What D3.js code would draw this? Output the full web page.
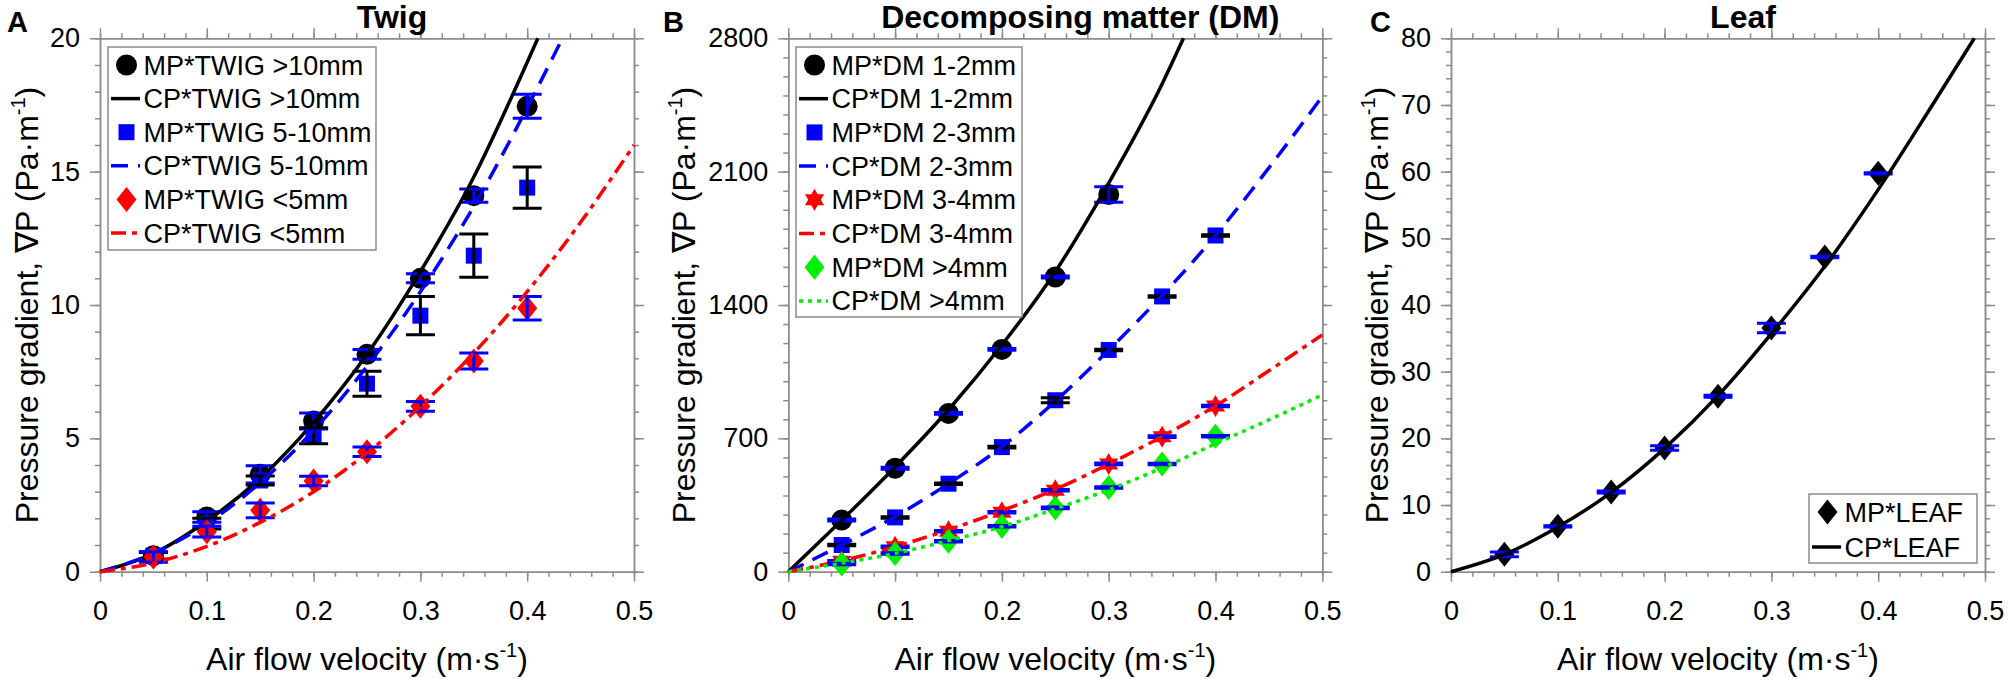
<!DOCTYPE html>
<html>
<head>
<meta charset="utf-8">
<script src="https://cdn.jsdelivr.net/npm/d3@7"></script>
<style>
  body { margin: 0; background: #fff; }
  text { font-family: "Liberation Sans", Arial, sans-serif; fill: #000; }
</style>
</head>
<body>
<script>
// air flow velocities (m/s) where pressure was measured
const velocity = [0.05, 0.1, 0.15, 0.2, 0.25, 0.3, 0.35, 0.4];
const velocityShort = [0.05, 0.1, 0.15, 0.2, 0.25, 0.3];

// A - twig, measured values and error
const twigOver10 = [0.6, 2.05, 3.65, 5.65, 8.15, 11.0, 14.1, 17.45];
const twigOver10Err = [0.15, 0.2, 0.32, 0.3, 0.18, 0.17, 0.25, 0.45];
const twig5to10 = [0.6, 1.8, 3.42, 5.1, 7.05, 9.6, 11.85, 14.4];
const twig5to10Err = [0.12, 0.2, 0.17, 0.3, 0.47, 0.72, 0.81, 0.77];
const twigUnder5 = [0.55, 1.5, 2.3, 3.4, 4.5, 6.2, 7.9, 9.88];
const twigUnder5Err = [0.2, 0.2, 0.28, 0.18, 0.18, 0.18, 0.3, 0.44];

// A - computed curves
const fullFitV = [0, 0.05, 0.1, 0.15, 0.2, 0.25, 0.3, 0.35, 0.4, 0.45, 0.5];
const twigOver10FitV = [0, 0.05, 0.1, 0.15, 0.2, 0.25, 0.3, 0.35, 0.4, 0.41];
const twigOver10Fit = [0, 0.68, 1.9, 3.5, 5.6, 8.15, 11.25, 14.8, 19.1, 20];
const twig5to10FitV = [0, 0.05, 0.1, 0.15, 0.2, 0.25, 0.3, 0.35, 0.4, 0.433];
const twig5to10Fit = [0, 0.69, 1.8, 3.34, 5.3, 7.7, 10.5, 13.7, 17.4, 20];
const twigUnder5Fit = [0, 0.33, 0.95, 1.85, 3.0, 4.45, 6.2, 8.2, 10.5, 13.1, 16.0];

// B - decomposing matter
const dm1to2 = [271, 543, 831, 1167, 1547, 1980];
const dm1to2Err = [5, 5, 5, 5, 5, 41];
const dm2to3 = [140, 285, 462, 654, 900, 1164, 1445, 1765];
const dm2to3Err = [4, 4, 4, 4, 13, 4, 4, 4];
const dm3to4 = [55, 131, 212, 312, 427, 566, 709, 870];
const dm3to4Err = [4, 4, 4, 4, 4, 4, 4, 4];
const dmOver4 = [40, 96, 160, 238, 335, 442, 565, 711];
const dmOver4Err = [4, 4, 4, 4, 4, 4, 4, 4];

const dm1to2FitV = [0, 0.05, 0.1, 0.15, 0.2, 0.25, 0.3, 0.35, 0.37];
const dm1to2Fit = [0, 270, 550, 850, 1190, 1575, 2040, 2560, 2800];
const dm2to3Fit = [0, 140, 289, 462, 656, 895, 1164, 1450, 1765, 2120, 2495];
const dm3to4Fit = [0, 58, 131, 220, 320, 432, 565, 710, 870, 1055, 1243];
const dmOver4Fit = [0, 45, 96, 163, 236, 330, 430, 545, 672, 797, 928];

// C - leaf
const leaf = [2.6, 6.8, 11.95, 18.55, 26.3, 36.55, 47.2, 59.75];
const leafErr = [0.35, 0.1, 0.15, 0.35, 0.15, 0.7, 0.1, 0.1];
const leafFitV = [0, 0.05, 0.1, 0.15, 0.2, 0.25, 0.3, 0.35, 0.4, 0.45, 0.49];
const leafFit = [0, 2.6, 6.7, 11.9, 18.5, 26.4, 35.7, 45.8, 57.3, 69.8, 80];

// tick labels
const xTicks = [0, 0.1, 0.2, 0.3, 0.4, 0.5];
const yTicksA = [0, 5, 10, 15, 20];
const yTicksB = [0, 700, 1400, 2100, 2800];
const yTicksC = [0, 10, 20, 30, 40, 50, 60, 70, 80];

const BLUE = "#0000ff", RED = "#ff0000", GREEN = "#00ee00", BLACK = "#000";
const GREY = "#8c8c8c";

const plotTop = 38.3, plotBottom = 571.7, plotW = 534;

const panels = [
  {
    letter: "A", letterX: 7, title: "Twig", left: 100, yTicks: yTicksA, yMinor: 1, yTitleX: 38,
    legend: { x: 108, y: 47, w: 268, h: 203, row: 33.6 },
    series: [
      { mp: "MP*TWIG >10mm", cp: "CP*TWIG >10mm", marker: "circle", fill: BLACK, bar: BLUE,
        v: velocity, p: twigOver10, err: twigOver10Err, fv: twigOver10FitV, fp: twigOver10Fit, line: BLACK, dash: null },
      { mp: "MP*TWIG 5-10mm", cp: "CP*TWIG 5-10mm", marker: "square", fill: BLUE, bar: BLACK,
        v: velocity, p: twig5to10, err: twig5to10Err, fv: twig5to10FitV, fp: twig5to10Fit, line: BLUE, dash: "17,10" },
      { mp: "MP*TWIG <5mm", cp: "CP*TWIG <5mm", marker: "diamond", fill: RED, bar: BLUE,
        v: velocity, p: twigUnder5, err: twigUnder5Err, fv: fullFitV, fp: twigUnder5Fit, line: RED, dash: "15,6,5,6" }
    ]
  },
  {
    letter: "B", letterX: 663, title: "Decomposing matter (DM)", left: 788.3, yTicks: yTicksB, yMinor: 100, yTitleX: 695,
    legend: { x: 796, y: 47, w: 226, h: 270, row: 33.7 },
    series: [
      { mp: "MP*DM 1-2mm", cp: "CP*DM 1-2mm", marker: "circle", fill: BLACK, bar: BLUE,
        v: velocityShort, p: dm1to2, err: dm1to2Err, fv: dm1to2FitV, fp: dm1to2Fit, line: BLACK, dash: null },
      { mp: "MP*DM 2-3mm", cp: "CP*DM 2-3mm", marker: "square", fill: BLUE, bar: BLACK,
        v: velocity, p: dm2to3, err: dm2to3Err, fv: fullFitV, fp: dm2to3Fit, line: BLUE, dash: "17,10" },
      { mp: "MP*DM 3-4mm", cp: "CP*DM 3-4mm", marker: "star", fill: RED, bar: BLUE,
        v: velocity, p: dm3to4, err: dm3to4Err, fv: fullFitV, fp: dm3to4Fit, line: RED, dash: "15,6,5,6" },
      { mp: "MP*DM >4mm", cp: "CP*DM >4mm", marker: "diamond", fill: GREEN, bar: BLUE,
        v: velocity, p: dmOver4, err: dmOver4Err, fv: fullFitV, fp: dmOver4Fit, line: GREEN, dash: "4,5" }
    ]
  },
  {
    letter: "C", letterX: 1370, title: "Leaf", left: 1451, yTicks: yTicksC, yMinor: 2, yTitleX: 1388,
    legend: { x: 1809, y: 494, w: 168, h: 69, row: 35 },
    series: [
      { mp: "MP*LEAF", cp: "CP*LEAF", marker: "diamond", fill: BLACK, bar: BLUE,
        v: velocity, p: leaf, err: leafErr, fv: leafFitV, fp: leafFit, line: BLACK, dash: null }
    ]
  }
];

const svg = d3.select("body").append("svg")
  .attr("width", 2008)
  .attr("height", 679);

// marker shapes
function markerPath(type) {
  if (type === "circle") return d3.symbol(d3.symbolCircle, Math.PI * 10.5 * 10.5)();
  if (type === "square") return d3.symbol(d3.symbolSquare, 16 * 16)();
  if (type === "diamond") return "M0,-12.5L10,0L0,12.5L-10,0Z";
  // six pointed star
  const pts = [];
  for (let i = 0; i < 12; i++) {
    const a = -Math.PI / 2 + i * Math.PI / 6;
    const r = i % 2 ? 11 / Math.sqrt(3) : 11;
    pts.push([r * Math.cos(a), r * Math.sin(a)]);
  }
  return "M" + pts.join("L") + "Z";
}

panels.forEach(panel => {
  const yMax = panel.yTicks[panel.yTicks.length - 1];
  const x = d3.scaleLinear().domain([0, 0.5]).range([panel.left, panel.left + plotW]);
  const y = d3.scaleLinear().domain([0, yMax]).range([plotBottom, plotTop]);
  const g = svg.append("g");

  const xMinor = d3.range(0, 0.5001, 0.02);
  const yMinor = d3.range(0, yMax + 0.001, panel.yMinor);

  // axes on all four sides, ticks pointing out
  const sides = [
    { make: () => d3.axisBottom(x), tr: "translate(0," + plotBottom + ")", major: xTicks, minor: xMinor, labels: true, pad: 19 },
    { make: () => d3.axisTop(x), tr: "translate(0," + plotTop + ")", major: xTicks, minor: xMinor, labels: false, pad: 10 },
    { make: () => d3.axisLeft(y), tr: "translate(" + panel.left + ",0)", major: panel.yTicks, minor: yMinor, labels: true, pad: 10 },
    { make: () => d3.axisRight(y), tr: "translate(" + (panel.left + plotW) + ",0)", major: panel.yTicks, minor: yMinor, labels: false, pad: 10 }
  ];
  sides.forEach(side => {
    g.append("g").attr("transform", side.tr)
      .call(side.make().tickValues(side.minor).tickSize(5).tickSizeOuter(0).tickFormat(""));
    const major = g.append("g").attr("transform", side.tr)
      .call(side.make().tickValues(side.major).tickSize(10).tickSizeOuter(0)
        .tickPadding(side.pad)
        .tickFormat(side.labels ? (d => String(d)) : ""));
    major.selectAll("text").attr("font-size", 27).attr("fill", "#000")
      .attr("font-family", "'Liberation Sans', Arial, sans-serif");
  });
  g.selectAll(".domain, .tick line").attr("stroke", GREY).attr("stroke-width", 1.5);

  // curves and measured points
  const line = d3.line().x(d => x(d[0])).y(d => y(d[1])).curve(d3.curveMonotoneX);
  panel.series.forEach(s => {
    const pts = s.v.map((v, i) => ({ v: v, p: s.p[i], e: s.err[i] }));

    g.append("g").selectAll("path").data(pts).join("path")
      .attr("d", markerPath(s.marker))
      .attr("transform", d => "translate(" + x(d.v) + "," + y(d.p) + ")")
      .attr("fill", s.fill);

    const bars = g.append("g").attr("stroke", s.bar).attr("stroke-width", 3).attr("fill", "none");
    bars.selectAll("path").data(pts).join("path")
      .attr("d", d => {
        const cx = x(d.v), y1 = y(d.p + d.e), y0 = y(d.p - d.e);
        return "M" + (cx - 14.5) + "," + y1 + "H" + (cx + 14.5) +
          "M" + cx + "," + y1 + "V" + y0 +
          "M" + (cx - 14.5) + "," + y0 + "H" + (cx + 14.5);
      });

    g.append("path")
      .datum(s.fv.map((v, i) => [v, s.fp[i]]))
      .attr("d", line)
      .attr("fill", "none")
      .attr("stroke", s.line)
      .attr("stroke-width", 3.5)
      .attr("stroke-dasharray", s.dash);
  });

  // legend
  const lg = panel.legend;
  const leg = g.append("g");
  leg.append("rect")
    .attr("x", lg.x).attr("y", lg.y).attr("width", lg.w).attr("height", lg.h)
    .attr("fill", "#fff").attr("stroke", GREY).attr("stroke-width", 1.5);
  const rows = [];
  panel.series.forEach(s => {
    rows.push({ label: s.mp, kind: "marker", s: s });
    rows.push({ label: s.cp, kind: "line", s: s });
  });
  rows.forEach((r, i) => {
    const cy = lg.y + 18 + i * lg.row;
    if (r.kind === "marker") {
      leg.append("path")
        .attr("d", markerPath(r.s.marker))
        .attr("transform", "translate(" + (lg.x + 18.5) + "," + cy + ")")
        .attr("fill", r.s.fill);
    } else {
      leg.append("line")
        .attr("x1", lg.x + 3).attr("x2", lg.x + 32).attr("y1", cy).attr("y2", cy)
        .attr("stroke", r.s.line).attr("stroke-width", 3.5)
        .attr("stroke-dasharray", r.s.dash);
    }
    leg.append("text")
      .attr("x", lg.x + 35.5).attr("y", cy + 9.5)
      .attr("font-size", 27)
      .text(r.label);
  });

  // titles
  const mid = panel.left + plotW / 2;
  g.append("text")
    .attr("x", mid + 25).attr("y", 28)
    .attr("text-anchor", "middle").attr("font-size", 32).attr("font-weight", "bold")
    .text(panel.title);
  g.append("text")
    .attr("x", panel.letterX).attr("y", 32)
    .attr("font-size", 29).attr("font-weight", "bold")
    .text(panel.letter);

  const xt = g.append("text")
    .attr("x", mid).attr("y", 670)
    .attr("text-anchor", "middle").attr("font-size", 32);
  xt.append("tspan").text("Air flow velocity (m·s");
  xt.append("tspan").attr("font-size", 20).attr("dy", -13).text("-1");
  xt.append("tspan").attr("dy", 13).text(")");

  const yt = g.append("text")
    .attr("transform", "translate(" + panel.yTitleX + "," + ((plotTop + plotBottom) / 2) + ") rotate(-90)")
    .attr("text-anchor", "middle").attr("font-size", 32);
  yt.append("tspan").text("Pressure gradient, ∇P (Pa·m");
  yt.append("tspan").attr("font-size", 20).attr("dy", -13).text("-1");
  yt.append("tspan").attr("dy", 13).text(")");
});
</script>
</body>
</html>
